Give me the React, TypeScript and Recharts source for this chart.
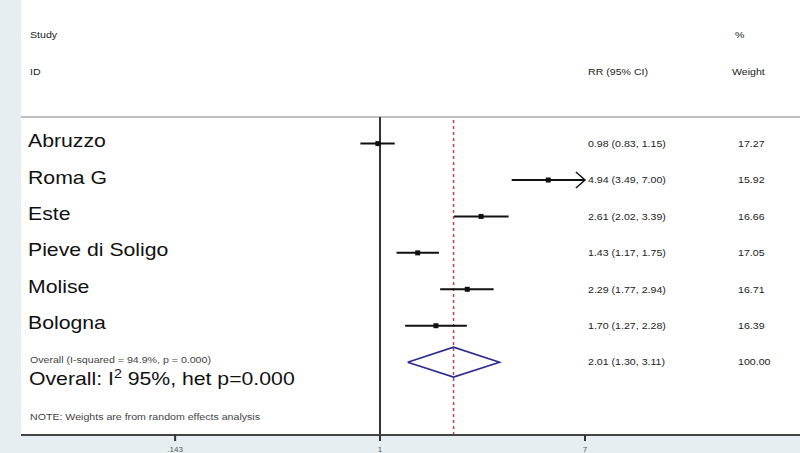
import React from "react";
import { ScatterChart, Scatter, XAxis, YAxis, ReferenceLine } from "recharts";

// Forest plot: per-study risk ratios with 95% CI on a log axis, random-effects pooled diamond.

const STUDIES = ["Abruzzo", "Roma G", "Este", "Pieve di Soligo", "Molise", "Bologna"];
const RR = [0.98, 4.94, 2.61, 1.43, 2.29, 1.7];
const LOWER = [0.83, 3.49, 2.02, 1.17, 1.77, 1.27];
const UPPER = [1.15, 7.0, 3.39, 1.75, 2.94, 2.28];
const WEIGHTS = ["17.27", "15.92", "16.66", "17.05", "16.71", "16.39"];

const OVERALL_RR = 2.01;
const OVERALL_LOWER = 1.3;
const OVERALL_UPPER = 3.11;
const OVERALL_WEIGHT = "100.00";
const OVERALL_HET = "Overall  (I-squared = 94.9%, p = 0.000)";
const NOTE = "NOTE: Weights are from random effects analysis";

const X_TICKS = [0.143, 1, 7];
const X_DOMAIN = [0.0331, 53.9];
const Y_DOMAIN = [-0.73, 8.0];

const FONT = "'Liberation Sans', Arial, sans-serif";
const STRETCH = 1.18;

const fmt = (v: number) => v.toFixed(2);
const ciLabel = (r: number, lo: number, hi: number) => `${fmt(r)} (${fmt(lo)}, ${fmt(hi)})`;

const points = RR.map((r, i) => ({ x: r, y: i }));
const ciSegments = RR.map((_, i) => [
  { x: LOWER[i], y: i },
  { x: UPPER[i], y: i },
]);
const xMax = X_TICKS[X_TICKS.length - 1];
const arrows = UPPER.map((hi, i) => ({ hi, i }))
  .filter((d) => d.hi >= xMax)
  .map(({ i }) => [
    { x: xMax / 1.09, y: i - 0.22 },
    { x: xMax, y: i },
    { x: xMax / 1.09, y: i + 0.22 },
  ]);
const overallRow = STUDIES.length;
const diamond = [
  { x: OVERALL_LOWER, y: overallRow },
  { x: OVERALL_RR, y: overallRow - 0.41 },
  { x: OVERALL_UPPER, y: overallRow },
  { x: OVERALL_RR, y: overallRow + 0.41 },
  { x: OVERALL_LOWER, y: overallRow },
];
// one anchor per text row; the label shape reads only its y position
const rows = [...STUDIES.map((_, i) => ({ x: 1, y: i, row: i })), { x: 1, y: overallRow, row: overallRow }];

const noShape = () => <g />;

function SText({ x, y, size, fill = "#222", children }: any) {
  return (
    <text
      transform={`translate(${x},${y}) scale(${STRETCH},1)`}
      fontSize={size}
      fill={fill}
      fontFamily={FONT}
    >
      {children}
    </text>
  );
}

function RowLabel(props: any) {
  const y = props.cy;
  const i = props.payload.row;
  if (i < STUDIES.length) {
    return (
      <g>
        <SText x={28} y={y + 3.5} size={18} fill="#111">
          {STUDIES[i]}
        </SText>
        <SText x={588} y={y + 3.3} size={9}>
          {ciLabel(RR[i], LOWER[i], UPPER[i])}
        </SText>
        <SText x={738} y={y + 3.3} size={9}>
          {WEIGHTS[i]}
        </SText>
      </g>
    );
  }
  return (
    <g>
      <SText x={30} y={y + 1} size={9} fill="#444">
        {OVERALL_HET}
      </SText>
      <SText x={29} y={y + 23} size={18} fill="#111">
        Overall: I
        <tspan dy={-7} fontSize={12}>
          2
        </tspan>
        <tspan dy={7}> 95%, het p=0.000</tspan>
      </SText>
      <SText x={588} y={y + 3.3} size={9}>
        {ciLabel(OVERALL_RR, OVERALL_LOWER, OVERALL_UPPER)}
      </SText>
      <SText x={738} y={y + 3.3} size={9}>
        {OVERALL_WEIGHT}
      </SText>
      <SText x={30} y={y + 58} size={9} fill="#444">
        {NOTE}
      </SText>
    </g>
  );
}

export default function App() {
  return (
    <div
      style={{
        position: "fixed",
        left: 0,
        top: 0,
        width: 800,
        height: 453,
        background: "#e7eef2",
        overflow: "hidden",
      }}
    >
      <div style={{ position: "absolute", left: 21, top: 0, width: 779, height: 435, background: "#fff" }} />
      <svg width={800} height={117} style={{ position: "absolute", left: 0, top: 0 }}>
        <SText x={30} y={38} size={9}>Study</SText>
        <SText x={30} y={75} size={9}>ID</SText>
        <SText x={588} y={75} size={9}>RR (95% CI)</SText>
        <SText x={735} y={38} size={9}>%</SText>
        <SText x={732} y={75} size={9}>Weight</SText>
      </svg>
      <div style={{ position: "absolute", left: 0, top: 0 }}>
        <ScatterChart width={800} height={453} margin={{ top: 117, right: 0, bottom: 0, left: 21 }}>
          <XAxis
            dataKey="x"
            type="number"
            scale="log"
            domain={X_DOMAIN}
            allowDataOverflow
            ticks={X_TICKS}
            interval={0}
            tickFormatter={(v: number) => (v < 1 ? String(v).replace(/^0/, "") : String(v))}
            height={18}
            tickSize={6}
            tickMargin={5}
            axisLine={{ stroke: "#444", strokeWidth: 2 }}
            tickLine={{ stroke: "#333", strokeWidth: 2 }}
            tick={{ fontSize: 8, fill: "#555", fontFamily: FONT }}
          />
          <YAxis dataKey="y" type="number" domain={Y_DOMAIN} reversed allowDataOverflow hide />
          <ReferenceLine y={Y_DOMAIN[0]} stroke="#aaa" strokeWidth={1.5} />
          <ReferenceLine x={1} stroke="#333" strokeWidth={2} />
          <ReferenceLine x={OVERALL_RR} stroke="#c63d4e" strokeWidth={1.5} strokeDasharray="3 3" />
          {ciSegments.map((seg, i) => (
            <Scatter
              key={`ci-${i}`}
              data={seg}
              line={{ stroke: "#111", strokeWidth: 2 }}
              lineType="joint"
              shape={noShape}
              isAnimationActive={false}
            />
          ))}
          {arrows.map((seg, i) => (
            <Scatter
              key={`arrow-${i}`}
              data={seg}
              line={{ stroke: "#111", strokeWidth: 1.5, fill: "none" }}
              lineType="joint"
              shape={noShape}
              isAnimationActive={false}
            />
          ))}
          <Scatter
            data={diamond}
            line={{ stroke: "#2b2b8e", strokeWidth: 1.6, fill: "none" }}
            lineType="joint"
            shape={noShape}
            isAnimationActive={false}
          />
          <Scatter
            data={points}
            fill="#111"
            shape={(p: any) => <rect x={p.cx - 2.5} y={p.cy - 2.5} width={5} height={5} fill="#111" />}
            isAnimationActive={false}
          />
          <Scatter data={rows} shape={RowLabel} isAnimationActive={false} />
        </ScatterChart>
      </div>
    </div>
  );
}
